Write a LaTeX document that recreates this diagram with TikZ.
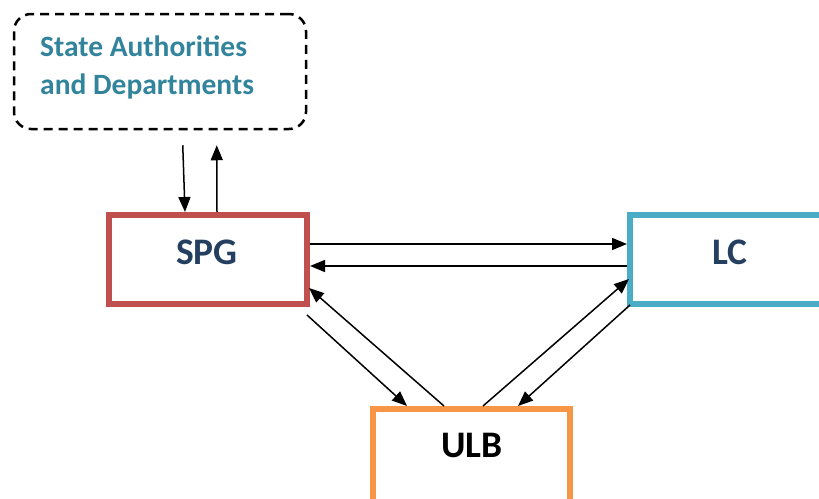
\documentclass[tikz,border=0pt]{standalone}
\usepackage{fontspec}
\setmainfont{Carlito}
\usetikzlibrary{arrows.meta,calc}
\definecolor{spgred}{HTML}{C0504D}
\definecolor{lcblue}{HTML}{4BACC6}
\definecolor{ulborange}{HTML}{F79646}
\definecolor{tealtext}{HTML}{31849B}
\definecolor{navytext}{HTML}{243F60}
\tikzset{
  box/.style={draw, line width=6pt, rectangle, inner sep=0pt},
  boxtext/.style={font=\fontsize{37.5}{40}\selectfont\bfseries, inner sep=0pt},
  conn/.style={line width=1.5pt, -{Triangle[length=15pt,width=12pt]}},
}
\begin{document}
\begin{tikzpicture}[x=1pt,y=-1pt]
\useasboundingbox (0,0) rectangle (819,498);
% boxes
\node[draw, line width=2.5pt, dash pattern=on 9pt off 6pt, rounded corners=17pt,
      minimum width=292pt, minimum height=115pt, inner sep=0pt] (SA) at (160,71.5) {};
\node[box, spgred, minimum width=198pt, minimum height=89pt] (SPG) at (208,259.5) {};
\node[box, lcblue, minimum width=200pt, minimum height=89pt] (LC) at (730,259.5) {};
\node[box, ulborange, minimum width=197pt, minimum height=96pt] (ULB) at (471.5,457) {};
% texts
\node[font=\fontsize{29.5}{38}\selectfont\bfseries, text=tealtext, align=left, anchor=north west, inner sep=0pt] (SAt) at (40,36) {State Authorities\\and Departments};
\node[boxtext, text=navytext] (SPGt) at (207,252) {SPG};
\node[boxtext, text=navytext] (LCt) at (730,252) {LC};
\node[boxtext, text=black] (ULBt) at (472,445) {ULB};
% connectors
\draw[conn] ($(SA.south west)+(170,15)$) -- ($(SPG.north west)+(79,0)$);
\draw[conn] ($(SPG.north west)+(111,0)$) -- ($(SA.south west)+(204,15)$);
\draw[conn] ($(SPG.north east)+(0,32)$) -- ($(LC.north west)+(0,32)$);
\draw[conn] ($(LC.north west)+(0,54)$) -- ($(SPG.north east)+(0,54)$);
\draw[conn] ($(SPG.south east)+(-3,8)$) -- ($(ULB.north west)+(37,0)$);
\draw[conn] ($(ULB.north west)+(74,0)$) -- ($(SPG.south east)+(-1,-19)$);
\draw[conn] ($(ULB.north west)+(113,0)$) -- ($(LC.south west)+(2,-28)$);
\draw[conn] ($(LC.south west)+(3,-2)$) -- ($(ULB.north west)+(148,0)$);
\end{tikzpicture}
\end{document}
